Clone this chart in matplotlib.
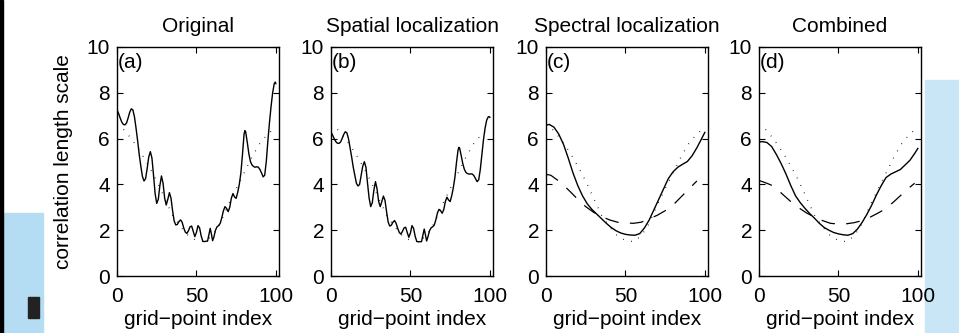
import matplotlib.pyplot as plt
from matplotlib.patches import Rectangle

plt.rcParams['font.family'] = ['Liberation Sans', 'DejaVu Sans']

titles = ['Original', 'Spatial localization', 'Spectral localization', 'Combined']
panel_tags = ['(a)', '(b)', '(c)', '(d)']

# true length scale (dotted, same in every panel)
true_x = [0, 5, 10, 15, 20, 25, 30, 35, 40, 45, 50, 55, 60, 65, 70, 75, 80, 85, 90, 95, 100]
true_y = [6.62, 6.35, 5.9, 5.4, 4.8, 4.15, 3.4, 2.65, 2.15, 1.75, 1.55, 1.5, 1.75, 2.3,
          3.1, 3.8, 4.5, 5.2, 5.8, 6.2, 6.5]

# noisy estimates, panels (a) and (b)
wavy_x = [0, 1, 2, 3, 4, 5, 6, 7, 8, 9, 10, 11, 12, 13, 14, 15, 16, 17, 18, 19, 20, 21, 22,
          23, 24, 25, 26, 27, 28, 29, 30, 31, 32, 33, 34, 35, 36, 37, 38, 39, 40, 41, 42, 43,
          44, 45, 46, 47, 48, 49, 50, 51, 52, 53, 54, 55, 56, 57, 58, 58.7, 59.4, 60.2, 61,
          62, 63, 64, 65, 66, 67, 68, 69, 70, 71, 72, 73, 74, 75, 76, 77, 78, 79, 80, 80.5,
          81, 82, 83, 84, 85, 86, 87, 88, 89, 90, 91, 92, 93, 94, 95, 96, 97, 98, 99, 99.6, 100]
orig_y = [7.25, 7.1, 6.9, 6.72, 6.62, 6.6, 6.68, 6.9, 7.15, 7.3, 7.25, 6.95, 6.45, 5.9, 5.3,
          4.8, 4.35, 4.15, 4.25, 4.7, 5.2, 5.43, 5.15, 4.4, 3.6, 3.17, 3.35, 3.95, 4.37, 4.05,
          3.4, 3.1, 3.35, 3.64, 3.4, 2.85, 2.4, 2.23, 2.25, 2.38, 2.45, 2.35, 2.1, 1.92, 1.86,
          1.98, 2.15, 2.18, 1.95, 1.72, 1.9, 2.2, 2.1, 1.75, 1.52, 1.5, 1.52, 1.52, 1.85, 2.08,
          1.85, 1.54, 1.7, 2.0, 2.15, 2.2, 2.3, 2.55, 2.85, 3.03, 2.95, 2.81, 3.0, 3.4, 3.6,
          3.45, 3.39, 3.65, 4.0, 4.5, 5.3, 6.2, 6.35, 6.3, 5.85, 5.35, 5.0, 4.85, 4.78, 4.75,
          4.77, 4.75, 4.65, 4.5, 4.33, 4.4, 5.0, 5.9, 6.7, 7.4, 8.0, 8.4, 8.47, 8.4]
spatial_y = [6.28, 6.15, 6.0, 5.87, 5.8, 5.79, 5.85, 6.0, 6.18, 6.3, 6.25, 6.0, 5.6, 5.2,
             4.75, 4.4, 4.05, 3.93, 4.0, 4.4, 4.8, 4.99, 4.75, 4.05, 3.4, 3.03, 3.2, 3.75,
             4.12, 3.8, 3.25, 3.03, 3.25, 3.49, 3.3, 2.8, 2.35, 2.18, 2.22, 2.35, 2.42, 2.3,
             2.08, 1.9, 1.83, 1.95, 2.1, 2.13, 1.9, 1.69, 1.88, 2.2, 2.08, 1.73, 1.51, 1.49,
             1.5, 1.5, 1.83, 2.05, 1.82, 1.53, 1.7, 1.97, 2.1, 2.15, 2.22, 2.45, 2.75, 2.91,
             2.85, 2.74, 2.9, 3.25, 3.44, 3.32, 3.25, 3.5, 3.85, 4.3, 4.95, 5.5, 5.62, 5.58,
             5.25, 4.9, 4.65, 4.52, 4.47, 4.45, 4.46, 4.45, 4.38, 4.25, 4.12, 4.2, 4.65, 5.3,
             5.95, 6.45, 6.8, 6.95, 6.96, 6.93]

# smooth estimates, panels (c) and (d)
smooth_x = [0, 2, 5, 8, 11, 14, 17, 20, 23, 26, 29, 32, 35, 38, 41, 44, 47, 50, 53, 56, 59,
            62, 65, 68, 71, 74, 77, 80, 83, 86, 89, 92, 95, 98, 100]
spectral_y = [6.58, 6.62, 6.5, 6.2, 5.75, 5.15, 4.5, 3.95, 3.5, 3.15, 2.9, 2.7, 2.5, 2.3,
              2.12, 1.98, 1.88, 1.82, 1.79, 1.78, 1.85, 2.1, 2.45, 2.9, 3.35, 3.8, 4.25,
              4.55, 4.75, 4.88, 5.0, 5.25, 5.6, 6.0, 6.27]
combined_y = [5.85, 5.87, 5.83, 5.65, 5.3, 4.9, 4.45, 3.95, 3.5, 3.2, 2.95, 2.72, 2.52, 2.3,
              2.12, 2.0, 1.9, 1.84, 1.8, 1.78, 1.85, 2.05, 2.35, 2.7, 3.1, 3.55, 3.95, 4.3,
              4.45, 4.55, 4.65, 4.85, 5.05, 5.35, 5.57]

spectral_dash_x = [0, 3, 6, 9, 12, 15, 20, 25, 30, 35, 40, 45, 50, 55, 60, 65, 70, 75, 80,
                   85, 90, 95]
spectral_dash = [4.44, 4.4, 4.25, 4.1, 3.9, 3.7, 3.35, 3.03, 2.78, 2.6, 2.45, 2.35, 2.32,
                 2.3, 2.35, 2.5, 2.65, 2.85, 3.1, 3.45, 3.8, 4.15]
combined_dash_x = [0, 3, 6, 9, 12, 15, 20, 25, 30, 35, 40, 45, 50, 55, 60, 65, 70, 75, 80,
                   85, 90, 95, 98]
combined_dash = [4.17, 4.1, 4.02, 3.93, 3.75, 3.56, 3.25, 2.98, 2.75, 2.57, 2.42, 2.3, 2.27,
                 2.28, 2.33, 2.42, 2.57, 2.75, 2.95, 3.25, 3.57, 3.88, 4.05]

fig = plt.figure(figsize=(9.59, 3.33), dpi=100)

# screenshot background bits around the figure
fig.add_artist(Rectangle((0.002, 0), 0.043, 0.36, color='#b4dcf2', transform=fig.transFigure, zorder=-5))
fig.add_artist(Rectangle((0.965, 0), 0.035, 0.76, color='#c8e6f6', transform=fig.transFigure, zorder=-5))
fig.add_artist(Rectangle((0, 0), 0.003, 1, color='black', transform=fig.transFigure))
fig.add_artist(Rectangle((0.029, 0.045), 0.012, 0.063, color='#222222', transform=fig.transFigure))

lefts = [117, 331, 546, 759]
axes = []
for l in lefts:
    ax = fig.add_axes([l / 959, 57 / 333, 162 / 959, 229 / 333])
    axes.append(ax)

dot_style = dict(color='black', lw=0.9, linestyle=(0, (0.6, 6)))
dash_style = dict(color='black', lw=0.9, linestyle=(0, (11, 9)))

axes[0].plot(true_x, true_y, **dot_style)
axes[0].plot(wavy_x, orig_y, color='black', lw=1.0)

axes[1].plot(true_x, true_y, **dot_style)
axes[1].plot(wavy_x, spatial_y, color='black', lw=1.0)

axes[2].plot(true_x, true_y, **dot_style)
axes[2].plot(spectral_dash_x, spectral_dash, **dash_style)
axes[2].plot(smooth_x, spectral_y, color='black', lw=1.0)

axes[3].plot(true_x, true_y, **dot_style)
axes[3].plot(combined_dash_x, combined_dash, **dash_style)
axes[3].plot(smooth_x, combined_y, color='black', lw=1.0)

fs = 15
for i, ax in enumerate(axes):
    ax.set_xlim(0, 102)
    ax.set_ylim(0, 10)
    ax.set_xticks([0, 50, 100])
    ax.set_yticks([0, 2, 4, 6, 8, 10])
    ax.tick_params(direction='in', top=True, right=True, length=4, width=0.8, labelsize=fs)
    ax.tick_params(axis='x', pad=8)
    ax.tick_params(axis='y', pad=5)
    for s in ax.spines.values():
        s.set_linewidth(1.0)
    ax.set_title(titles[i], fontsize=fs, pad=11)
    ax.set_xlabel('grid\u2212point index', fontsize=fs, labelpad=3)
    ax.text(0.005, 0.975, panel_tags[i], transform=ax.transAxes, ha='left', va='top', fontsize=fs)

axes[0].set_ylabel('correlation length scale', fontsize=fs, labelpad=10)

fig.savefig('out.png', dpi=100)
